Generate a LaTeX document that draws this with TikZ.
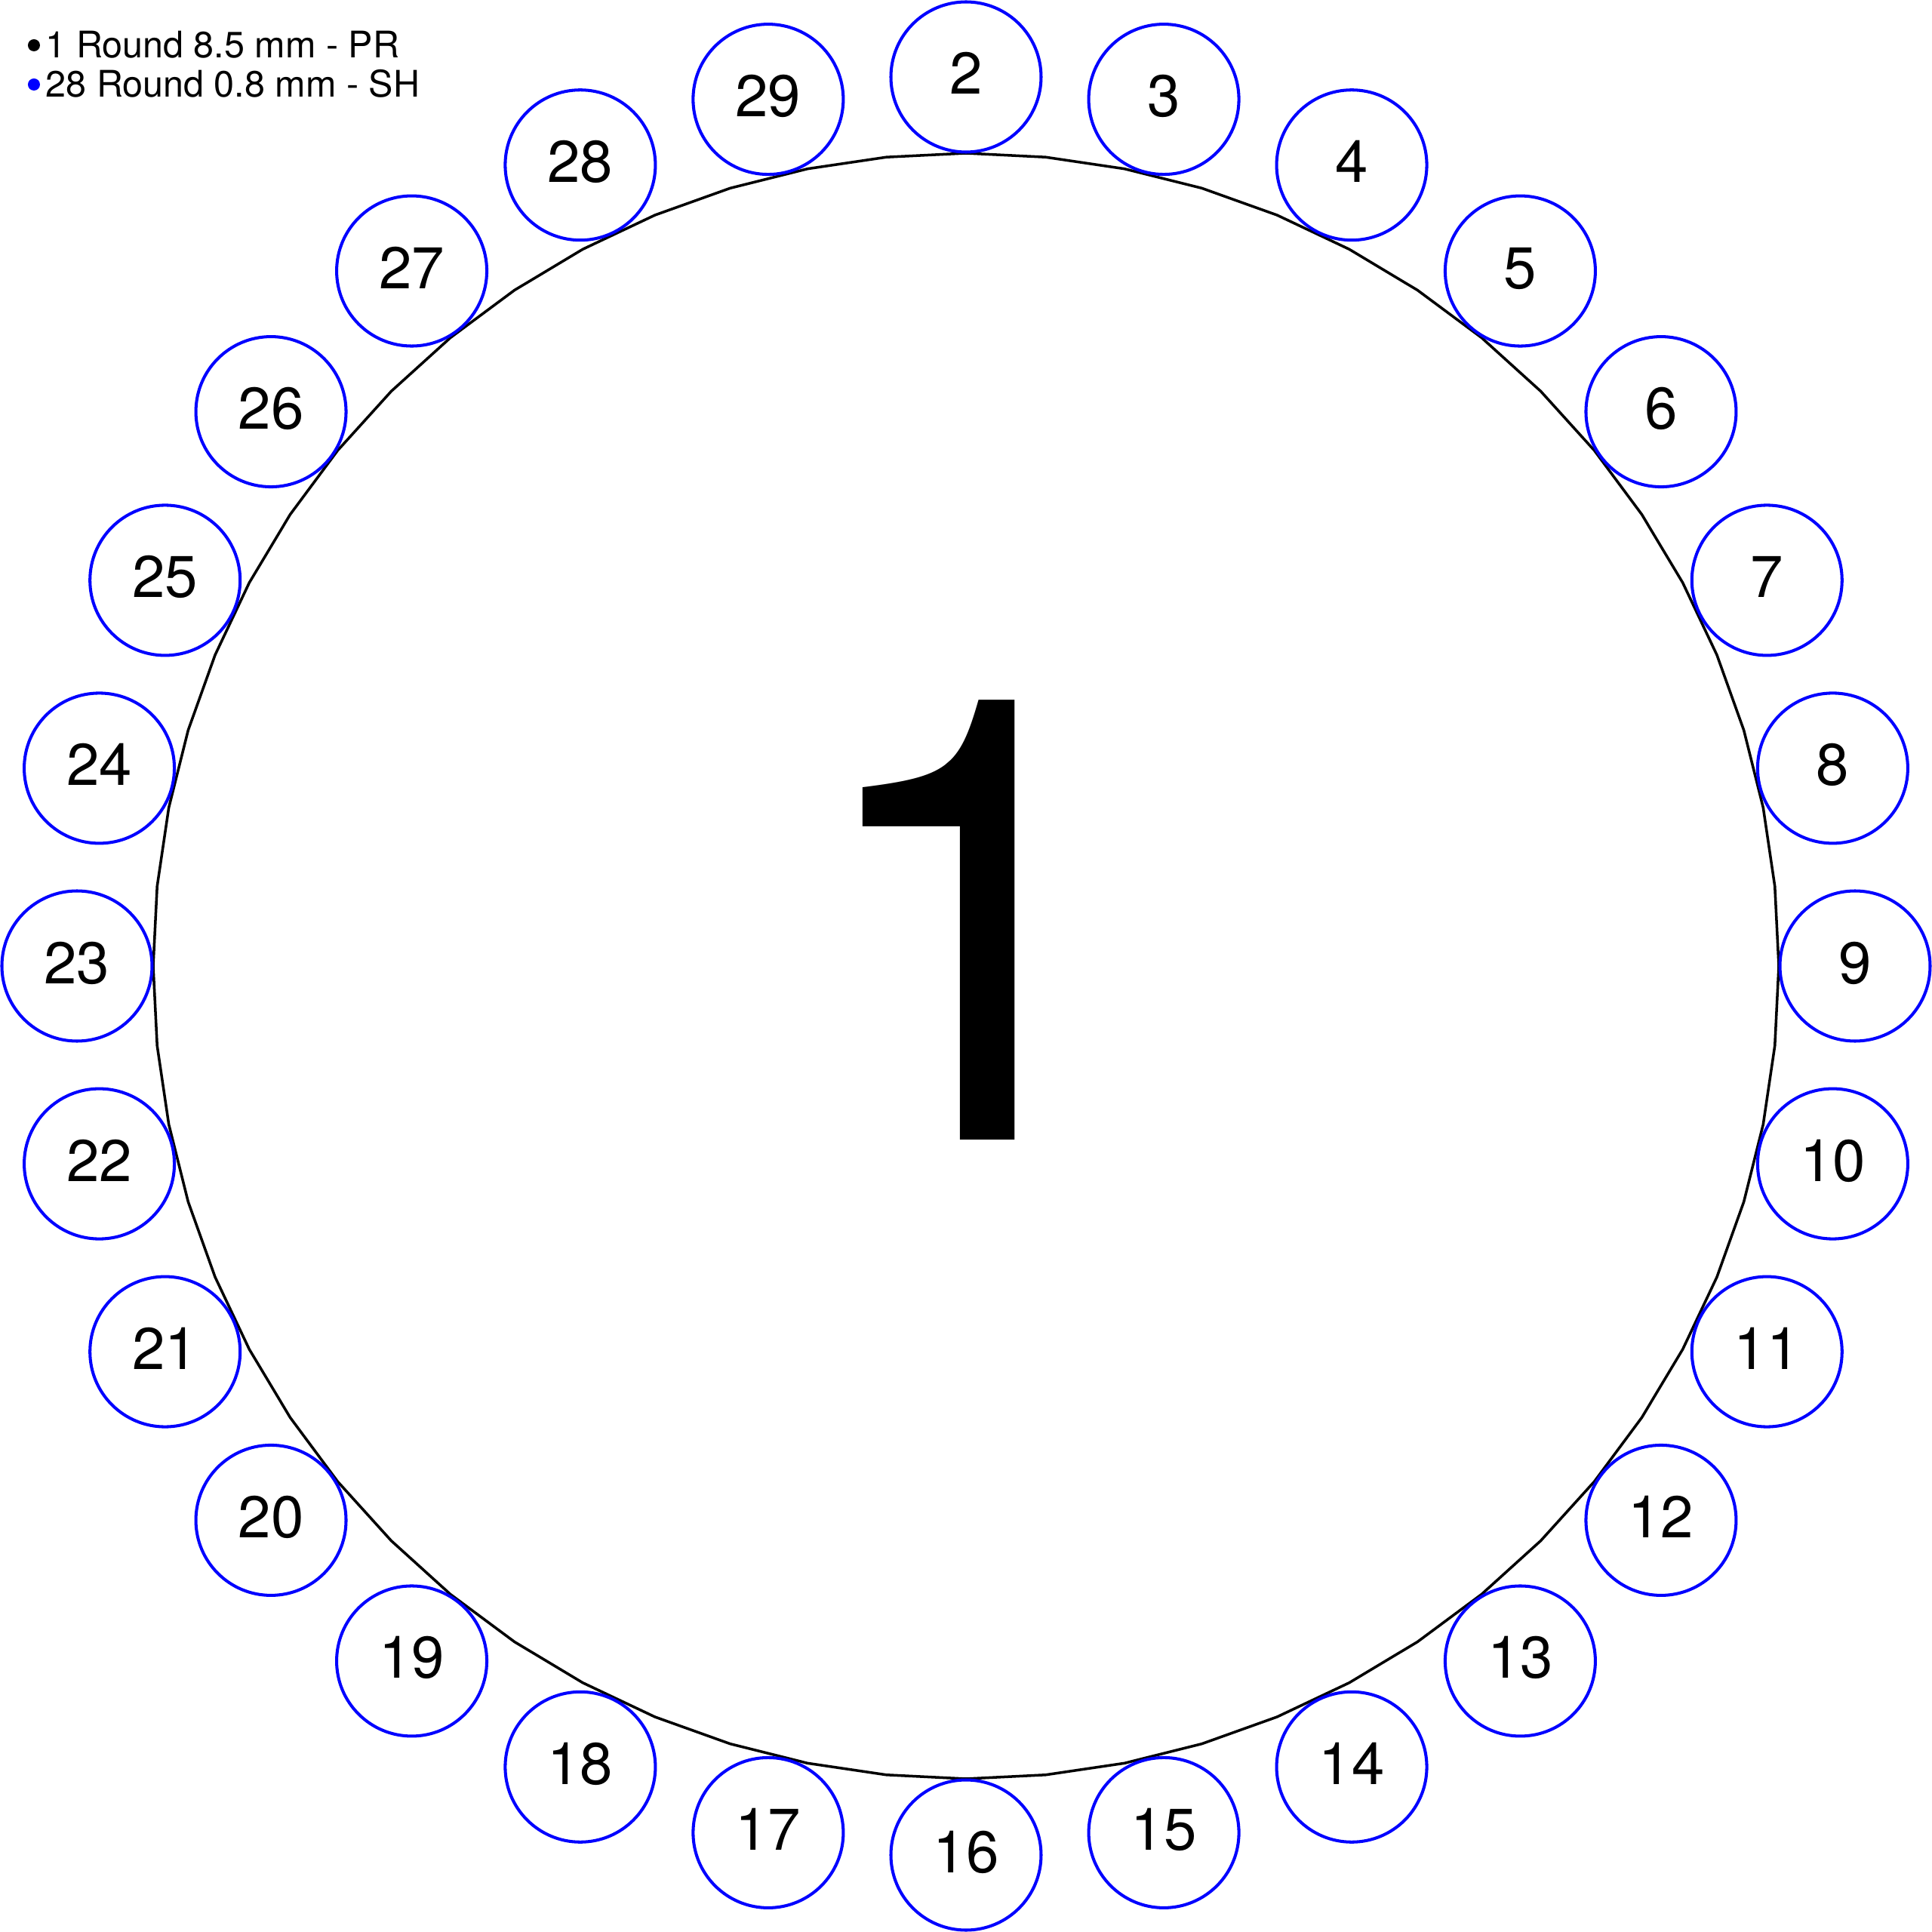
\documentclass[tikz,border=0pt]{standalone}
\usepackage{fontspec}
\setmainfont{TeX Gyre Heros}
\definecolor{pinblue}{RGB}{0,0,255}
\tikzset{
	hole/.style={circle, draw=pinblue, line width=1.15pt, minimum size=1.99cm, inner sep=0pt,
		font=\fontsize{22.2pt}{26pt}\selectfont, text height=0.56cm, text depth=0.1cm},
	legend/.style={anchor=base west, inner sep=0pt, font=\fontsize{13.8pt}{16pt}\selectfont}
}
\begin{document}
\begin{tikzpicture}
		\useasboundingbox (-12.8,-12.8) rectangle (12.8,12.8);
		\draw [line width=1pt] (90:10.77)
		\foreach \i in {1,...,63} { -- (90+\i*5.625:10.77) } -- cycle;
		\foreach \n in {2,...,29}
			\node [hole] (h\n) at ({90-(\n-2)*360/28}:11.78) {\n};
		\node [inner sep=0pt, font=\fontsize{233.9pt}{240pt}\selectfont] (pr) at (0.08,0.61) {1};
		\fill (-12.35,12.20) circle [radius=0.08];
		\fill [pinblue] (-12.35,11.68) circle [radius=0.08];
		\node [legend] (lg1) at (-12.20,12.03) {1 Round 8.5 mm - PR};
		\node [legend] (lg2) at (-12.20,11.51) {28 Round 0.8 mm - SH};
	\end{tikzpicture}
\end{document}
